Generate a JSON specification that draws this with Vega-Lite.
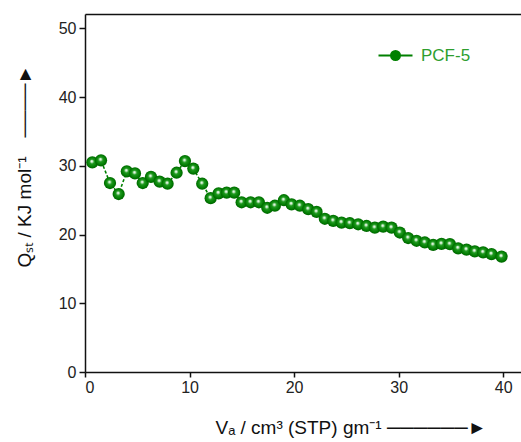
{
  "$schema": "https://vega.github.io/schema/vega-lite/v6.json",
  "width": 436,
  "height": 358,
  "autosize": "none",
  "padding": {"left": 85, "top": 14, "right": 0, "bottom": 70},
  "background": "white",
  "config": {
    "view": {"stroke": null},
    "font": "Liberation Sans",
    "axis": {
      "domainColor": "#111",
      "domainWidth": 1.5,
      "tickColor": "#111",
      "tickWidth": 1.5,
      "tickSize": 6,
      "labelFont": "Liberation Sans",
      "labelFontSize": 16,
      "labelColor": "#222",
      "titleFont": "Liberation Sans",
      "titleFontSize": 19,
      "titleFontWeight": "normal",
      "titleColor": "#111",
      "grid": false
    }
  },
  "data": {
    "values": [
      {"v": 0.70, "q": 30.5, "series": "PCF-5"},
      {"v": 1.53, "q": 30.8, "series": "PCF-5"},
      {"v": 2.39, "q": 27.5, "series": "PCF-5"},
      {"v": 3.22, "q": 25.9, "series": "PCF-5"},
      {"v": 4.00, "q": 29.2, "series": "PCF-5"},
      {"v": 4.78, "q": 28.9, "series": "PCF-5"},
      {"v": 5.52, "q": 27.5, "series": "PCF-5"},
      {"v": 6.31, "q": 28.4, "series": "PCF-5"},
      {"v": 7.14, "q": 27.7, "series": "PCF-5"},
      {"v": 7.90, "q": 27.4, "series": "PCF-5"},
      {"v": 8.76, "q": 29.0, "series": "PCF-5"},
      {"v": 9.56, "q": 30.7, "series": "PCF-5"},
      {"v": 10.36, "q": 29.6, "series": "PCF-5"},
      {"v": 11.21, "q": 27.4, "series": "PCF-5"},
      {"v": 12.02, "q": 25.3, "series": "PCF-5"},
      {"v": 12.78, "q": 26.0, "series": "PCF-5"},
      {"v": 13.55, "q": 26.1, "series": "PCF-5"},
      {"v": 14.27, "q": 26.1, "series": "PCF-5"},
      {"v": 14.98, "q": 24.7, "series": "PCF-5"},
      {"v": 15.84, "q": 24.7, "series": "PCF-5"},
      {"v": 16.63, "q": 24.7, "series": "PCF-5"},
      {"v": 17.43, "q": 23.9, "series": "PCF-5"},
      {"v": 18.16, "q": 24.2, "series": "PCF-5"},
      {"v": 19.02, "q": 25.0, "series": "PCF-5"},
      {"v": 19.76, "q": 24.4, "series": "PCF-5"},
      {"v": 20.55, "q": 24.2, "series": "PCF-5"},
      {"v": 21.35, "q": 23.7, "series": "PCF-5"},
      {"v": 22.15, "q": 23.3, "series": "PCF-5"},
      {"v": 22.94, "q": 22.3, "series": "PCF-5"},
      {"v": 23.74, "q": 22.0, "series": "PCF-5"},
      {"v": 24.54, "q": 21.75, "series": "PCF-5"},
      {"v": 25.33, "q": 21.65, "series": "PCF-5"},
      {"v": 26.13, "q": 21.5, "series": "PCF-5"},
      {"v": 26.93, "q": 21.25, "series": "PCF-5"},
      {"v": 27.72, "q": 21.0, "series": "PCF-5"},
      {"v": 28.52, "q": 21.15, "series": "PCF-5"},
      {"v": 29.32, "q": 21.0, "series": "PCF-5"},
      {"v": 30.11, "q": 20.3, "series": "PCF-5"},
      {"v": 30.91, "q": 19.5, "series": "PCF-5"},
      {"v": 31.71, "q": 19.1, "series": "PCF-5"},
      {"v": 32.50, "q": 18.85, "series": "PCF-5"},
      {"v": 33.30, "q": 18.5, "series": "PCF-5"},
      {"v": 34.10, "q": 18.65, "series": "PCF-5"},
      {"v": 34.90, "q": 18.6, "series": "PCF-5"},
      {"v": 35.69, "q": 18.0, "series": "PCF-5"},
      {"v": 36.49, "q": 17.8, "series": "PCF-5"},
      {"v": 37.28, "q": 17.55, "series": "PCF-5"},
      {"v": 38.08, "q": 17.4, "series": "PCF-5"},
      {"v": 38.88, "q": 17.15, "series": "PCF-5"},
      {"v": 39.84, "q": 16.8, "series": "PCF-5"}
    ]
  },
  "layer": [
    {
      "mark": {"type": "line", "strokeWidth": 1.6, "strokeDash": [3, 2], "clip": false},
      "encoding": {
        "x": {
          "field": "v", "type": "quantitative",
          "scale": {"domain": [0, 41.7], "nice": false, "zero": false},
          "axis": {
            "orient": "bottom",
            "values": [0, 10, 20, 30, 40],
            "labelPadding": 2,
            "tickSize": 5,
            "title": "Vₐ / cm³ (STP) gm⁻¹ ──────►",
            "titleAnchor": "start",
            "titleAlign": "left",
            "titleX": 130,
            "titleY": 61,
            "titleBaseline": "alphabetic"
          }
        },
        "y": {
          "field": "q", "type": "quantitative",
          "scale": {"domain": [0, 52.1], "nice": false, "zero": false},
          "axis": {
            "values": [0, 10, 20, 30, 40, 50],
            "labelPadding": 3,
            "title": "Qₛₜ / KJ mol⁻¹\u2002\u2002────►",
            "titleAnchor": "start",
            "titleAlign": "left",
            "titleAngle": -90,
            "titleX": -55,
            "titleY": 253,
            "titleBaseline": "alphabetic"
          }
        },
        "color": {
          "field": "series", "type": "nominal",
          "scale": {"range": ["#008000"]},
          "legend": {
            "title": null,
            "orient": "none",
            "legendX": 302,
            "legendY": 33,
            "padding": 0,
            "symbolType": "M-3.4,0H-0.9M0.9,0H3.4M-0.9,0A0.9,0.9 0 1,0 0.9,0A0.9,0.9 0 1,0 -0.9,0Z",
            "symbolSize": 100,
            "symbolStrokeWidth": 2,
            "symbolStrokeColor": "#008000",
            "symbolFillColor": "#008000",
            "labelFont": "Liberation Sans",
            "labelFontSize": 17,
            "labelColor": "#2e9e2e",
            "labelOffset": 17,
            "encode": {
              "symbols": {
                "update": {
                  "strokeDash": {"value": []},
                  "fill": {"value": "#008000"},
                  "stroke": {"value": "#008000"},
                  "opacity": {"value": 1}
                }
              }
            }
          }
        }
      }
    },
    {
      "mark": {
        "type": "point",
        "filled": true,
        "size": 150,
        "opacity": 1,
        "clip": false,
        "fill": {
          "gradient": "radial",
          "x1": 0.45, "y1": 0.4, "r1": 0,
          "x2": 0.5, "y2": 0.5, "r2": 0.55,
          "stops": [
            {"offset": 0, "color": "#ffffff"},
            {"offset": 0.13, "color": "#d6f0d6"},
            {"offset": 0.33, "color": "#1f9a1f"},
            {"offset": 0.75, "color": "#007a00"},
            {"offset": 1, "color": "#005500"}
          ]
        }
      },
      "encoding": {
        "x": {
          "field": "v", "type": "quantitative",
          "axis": {"orient": "top", "labels": false, "ticks": false, "title": null, "domain": true}
        },
        "y": {"field": "q", "type": "quantitative"}
      }
    }
  ]
}
